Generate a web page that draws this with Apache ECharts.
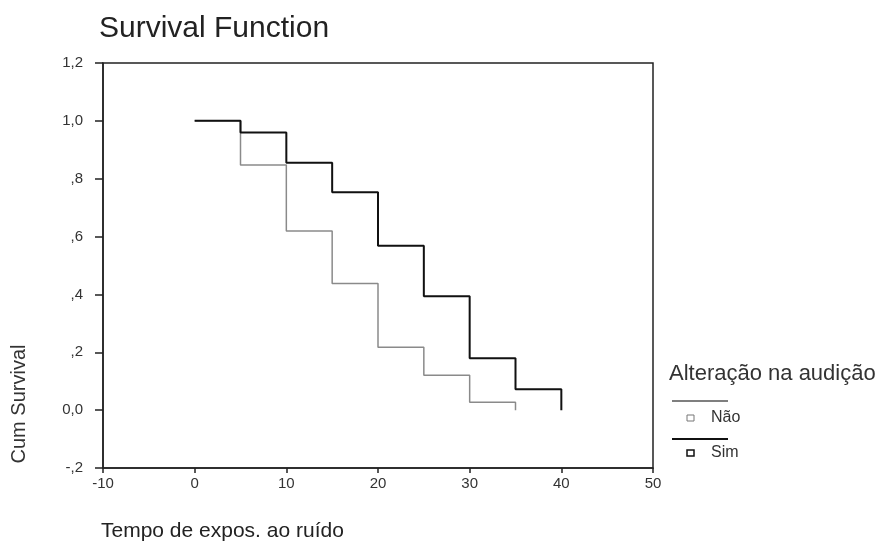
<!DOCTYPE html>
<html>
<head>
<meta charset="utf-8">
<script src="https://cdn.jsdelivr.net/npm/echarts@6/dist/echarts.min.js"></script>
<style>
html,body{margin:0;padding:0;background:#fff;}
#chart{width:876px;height:543px;}
</style>
</head>
<body>
<div id="chart"></div>
<script>
// ---- data ----
const titleText = 'Survival Function';
const xAxisTitle = 'Tempo de expos. ao ruído';
const yAxisTitle = 'Cum Survival';
const legendTitle = 'Alteração na audição';
const seriesNames = ['Não', 'Sim'];

const naoTimes = [0, 5, 10, 15, 20, 25, 30, 35];
const naoSurvival = [1.0, 0.847, 0.619, 0.438, 0.217, 0.121, 0.027, 0.0];

const simTimes = [0, 5, 10, 15, 20, 25, 30, 35, 40];
const simSurvival = [1.0, 0.960, 0.855, 0.753, 0.568, 0.394, 0.179, 0.072, 0.0];

const yTickValues = [-0.2, 0, 0.2, 0.4, 0.6, 0.8, 1.0, 1.2];
const yTickLabels = ['-,2', '0,0', ',2', ',4', ',6', ',8', '1,0', '1,2'];
const xTickValues = [-10, 0, 10, 20, 30, 40, 50];
const xTickLabels = ['-10', '0', '10', '20', '30', '40', '50'];

// ---- chart ----
const FONT = '"Liberation Sans", Arial, sans-serif';
const colors = ['#8a8a8a', '#111111'];
const widths = [1.5, 2];

function pairs(xs, ys) { return xs.map((x, i) => [x, ys[i]]); }
function nearestLabel(values, labels, v) {
  let best = 0, d = Infinity;
  values.forEach((t, i) => { const dd = Math.abs(t - v); if (dd < d) { d = dd; best = i; } });
  return labels[best];
}
const yLabel = v => nearestLabel(yTickValues, yTickLabels, v);
const xLabel = v => nearestLabel(xTickValues, xTickLabels, v);

const chart = echarts.init(document.getElementById('chart'), null, { renderer: 'canvas' });

const legendGraphics = [
  { type: 'text', x: 669, y: 374, style: { text: legendTitle, font: '22px ' + FONT, fill: '#333', align: 'left', verticalAlign: 'middle' } }
];
const legendRowY = [418, 453];
const legendLineY = [401, 439];
seriesNames.forEach((name, i) => {
  legendGraphics.push({ type: 'line', shape: { x1: 672, y1: legendLineY[i], x2: 728, y2: legendLineY[i] }, style: { stroke: i === 0 ? '#555' : '#111', lineWidth: widths[i] } });
  legendGraphics.push({ type: 'rect', shape: { x: 687, y: legendRowY[i] - 3, width: 7, height: 6 }, style: { fill: '#fff', stroke: i === 0 ? '#777' : '#111', lineWidth: i === 0 ? 1 : 1.5 } });
  legendGraphics.push({ type: 'text', x: 711, y: legendRowY[i], style: { text: name, font: '16px ' + FONT, fill: '#333', align: 'left', verticalAlign: 'middle' } });
});

const option = {
  animation: false,
  backgroundColor: '#fff',
  title: {
    text: titleText, left: 99, top: 14, padding: 0,
    textStyle: { fontSize: 30, fontWeight: 'normal', color: '#222', fontFamily: FONT }
  },
  grid: { left: 103, top: 63, right: 223, bottom: 75, show: true, borderColor: '#222', borderWidth: 1.5, backgroundColor: 'transparent' },
  xAxis: {
    type: 'value', min: -10, max: 50, interval: 10,
    axisLine: { show: true, onZero: false, lineStyle: { color: '#222', width: 1.5 } },
    axisTick: { show: true, inside: false, length: 5, lineStyle: { color: '#222', width: 1.5 } },
    axisLabel: { margin: 8, fontSize: 15, color: '#333', fontFamily: FONT, formatter: xLabel },
    splitLine: { show: false }
  },
  yAxis: {
    type: 'value', min: -0.2, max: 1.2, interval: 0.2,
    axisLine: { show: true, onZero: false, lineStyle: { color: '#222', width: 1.5 } },
    axisTick: { show: true, inside: false, length: 8, lineStyle: { color: '#222', width: 1.5 } },
    axisLabel: { margin: 20, fontSize: 15, color: '#333', fontFamily: FONT, formatter: yLabel },
    splitLine: { show: false }
  },
  series: [
    { name: seriesNames[0], type: 'line', step: 'end', symbol: 'none', data: pairs(naoTimes, naoSurvival), lineStyle: { color: colors[0], width: widths[0] }, z: 2 },
    { name: seriesNames[1], type: 'line', step: 'end', symbol: 'none', data: pairs(simTimes, simSurvival), lineStyle: { color: colors[1], width: widths[1] }, z: 3 }
  ],
  graphic: [
    { type: 'text', x: 101, y: 531, style: { text: xAxisTitle, font: '21px ' + FONT, fill: '#222', align: 'left', verticalAlign: 'middle' } },
    { type: 'text', x: 19, y: 404, rotation: Math.PI / 2, style: { text: yAxisTitle, font: '20px ' + FONT, fill: '#333', align: 'center', verticalAlign: 'middle' } }
  ].concat(legendGraphics)
};
chart.setOption(option);
</script>
</body>
</html>
